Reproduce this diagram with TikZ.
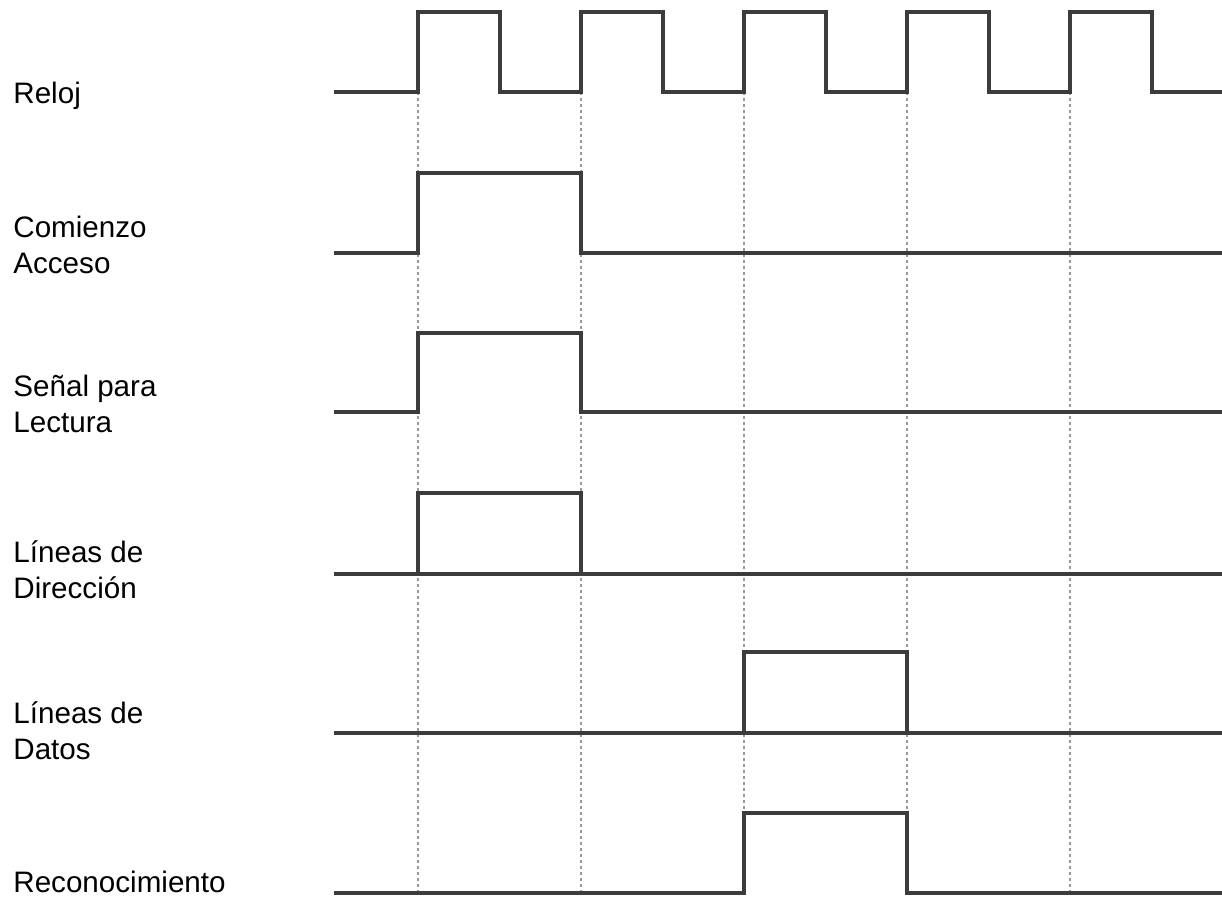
\documentclass[tikz,border=0pt]{standalone}
\usepackage{fontspec}
\setmainfont{Liberation Sans}
\usepackage{tikz}
\usetikzlibrary{positioning}
\definecolor{wavegray}{HTML}{3C3C3C}

\begin{document}
\begin{tikzpicture}[
  x=0.5pt, y=-0.5pt,
  wave/.style={draw=wavegray, line width=1.7pt, line join=miter},
  guide/.style={draw=gray!80, line width=0.55pt, dash pattern=on 1.6pt off 1.4pt},
  lbl/.style={anchor=west, align=left, inner sep=0pt, font=\fontsize{14.8}{17.8}\selectfont}
]
\useasboundingbox (0,0) rectangle (1222,898);
% guide lines
\foreach \x in {418,581,744,907,1070}
  \draw[guide] (\x,92) -- (\x,893);
% signal names
\node[lbl] (reloj) at (13,96) {Reloj};
\node[lbl] (comienzo) at (13,245) {Comienzo\\Acceso};
\node[lbl] (lectura) at (13,404) {Señal para\\Lectura};
\node[lbl] (direccion) at (13,570) {Líneas de\\Dirección};
\node[lbl] (datos) at (13,731) {Líneas de\\Datos};
\node[lbl] (recon) at (13,882) {Reconocimiento};
% waveforms
\draw[wave] (334,92) foreach \x in {418,581,744,907,1070} {-| (\x,12) -| (\x+82,92)} -- (1222,92);
\draw[wave] (334,253) -| (418,173) -| (581,253) -- (1222,253);
\draw[wave] (334,412) -| (418,333) -| (581,412) -- (1222,412);
\draw[wave] (334,574) -- (1222,574);
\draw[wave] (418,574) |- (581,493) -- (581,574);
\draw[wave] (334,733) -- (1222,733);
\draw[wave] (744,733) |- (907,652) -- (907,733);
\draw[wave] (334,893) -| (744,813) -| (907,893) -- (1222,893);
\end{tikzpicture}
\end{document}
